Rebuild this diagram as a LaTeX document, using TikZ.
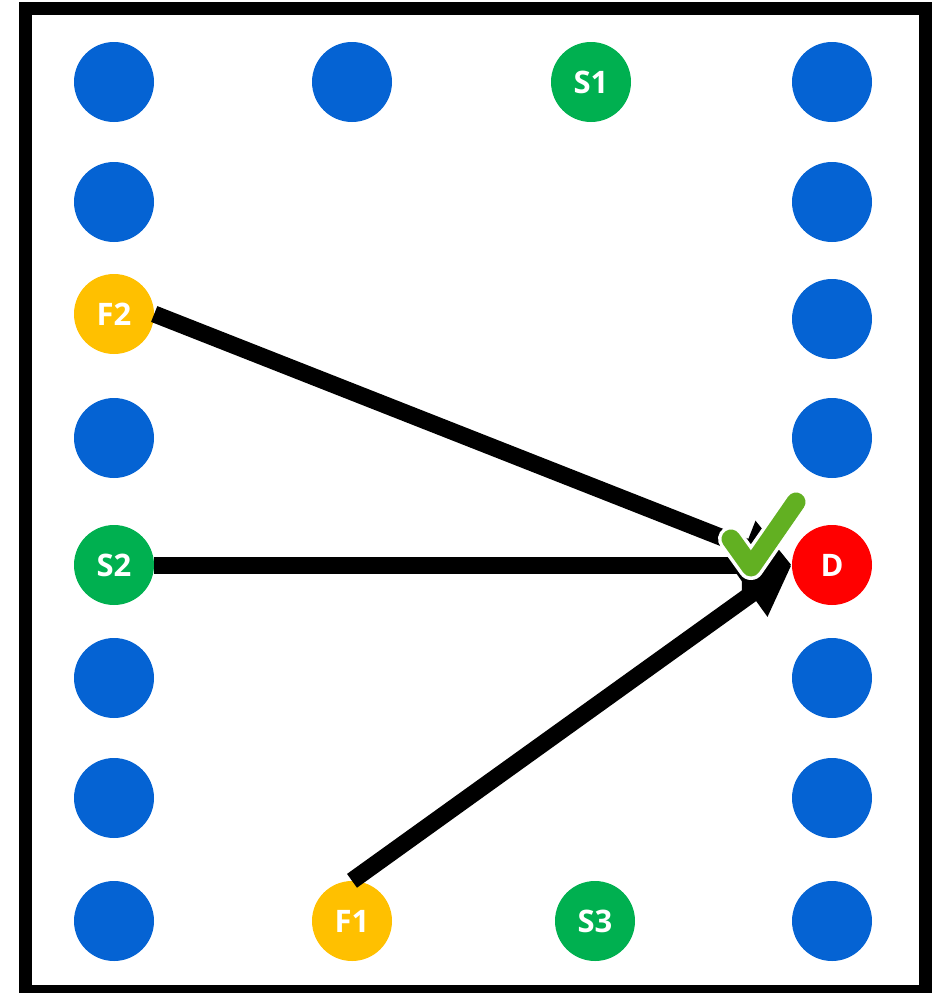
\documentclass[tikz,border=0pt]{standalone}
\usepackage{fontspec}
\setmainfont{Open Sans}
\usetikzlibrary{arrows.meta}
\definecolor{dotblue}{HTML}{0563D3}
\definecolor{dotgreen}{HTML}{00B050}
\definecolor{dotyellow}{HTML}{FFC000}
\definecolor{dotred}{HTML}{FF0000}
\definecolor{checkgreen}{HTML}{62B022}
\tikzset{
  dot/.style={circle, minimum size=80pt, inner sep=0pt, fill=dotblue, text=white, font=\bfseries\fontsize{31}{31}\selectfont},
  gdot/.style={dot, fill=dotgreen},
  ydot/.style={dot, fill=dotyellow},
  rdot/.style={dot, fill=dotred},
  link/.style={line width=17pt, -{Triangle[length=50pt,width=52pt]}},
}
\begin{document}
\begin{tikzpicture}[x=1pt,y=-1pt]
\useasboundingbox (0,0) rectangle (936,993);
\begin{scope}
\clip (0,0) rectangle (936,993);
\draw[line width=13pt] (25.5,8) rectangle (925.5,991);
\end{scope}
% left column
\node[dot] (l1) at (114,82) {};
\node[dot] (l2) at (114,202) {};
\node[ydot] (F2) at (114,314) {F2};
\node[dot] (l4) at (114,438) {};
\node[gdot] (S2) at (114,565) {S2};
\node[dot] (l6) at (114,678) {};
\node[dot] (l7) at (114,798) {};
\node[dot] (l8) at (114,921) {};
% right column
\node[dot] (r1) at (832,82) {};
\node[dot] (r2) at (832,202) {};
\node[dot] (r3) at (832,319) {};
\node[dot] (r4) at (832,438) {};
\node[rdot] (D) at (832,565) {D};
\node[dot] (r6) at (832,678) {};
\node[dot] (r7) at (832,798) {};
\node[dot] (r8) at (832,921) {};
% top and bottom middle
\node[dot] (t2) at (352,82) {};
\node[gdot] (S1) at (591,82) {S1};
\node[ydot] (F1) at (352,921) {F1};
\node[gdot] (S3) at (595,921) {S3};
% connectors
\draw[link] (F2.east) -- (D.west);
\draw[link] (S2.east) -- (D.west);
\draw[link] (F1.north) -- (D.west);
% check mark
\coordinate (c1) at (731,539);
\coordinate (c2) at (751,567);
\coordinate (c3) at (796,502);
\draw[white, line width=26pt, line cap=round, line join=round] (c1) -- (c2) -- (c3);
\draw[checkgreen, line width=19pt, line cap=round, line join=round] (c1) -- (c2) -- (c3);
\end{tikzpicture}
\end{document}
